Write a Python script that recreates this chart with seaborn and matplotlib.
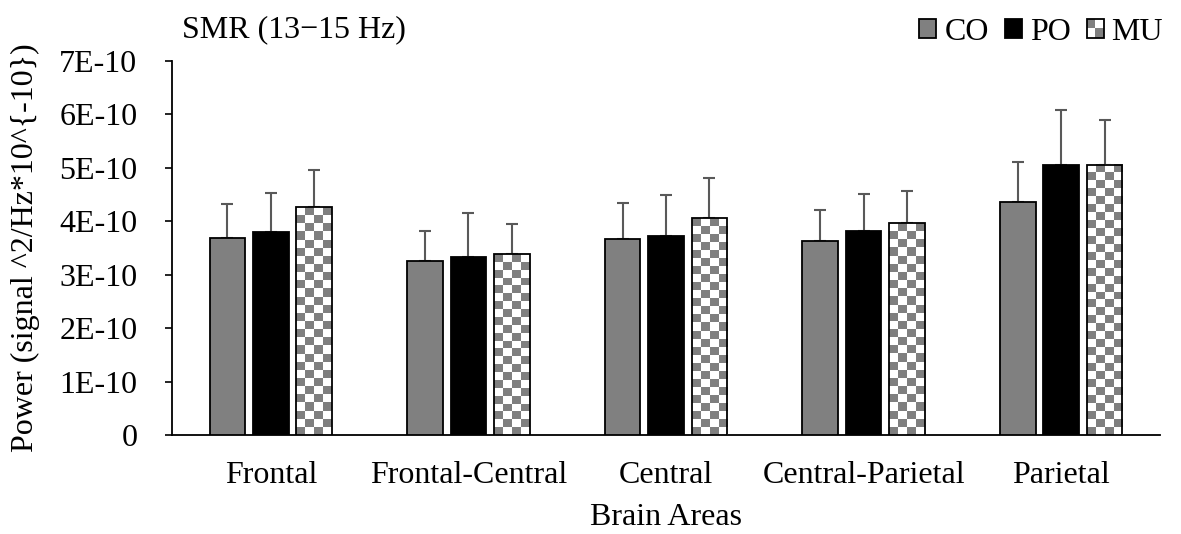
import numpy as np
import pandas as pd
import matplotlib
matplotlib.use("Agg")
import matplotlib.pyplot as plt
import seaborn as sns
from matplotlib.patches import Patch, Rectangle
from matplotlib.legend_handler import HandlerBase
from matplotlib.ticker import FuncFormatter, MultipleLocator

# data (power in units of 1E-10)
areas = ["Frontal", "Frontal-Central", "Central", "Central-Parietal", "Parietal"]
groups = ["CO", "PO", "MU"]
co_mean = [3.69, 3.26, 3.67, 3.63, 4.37]
po_mean = [3.80, 3.34, 3.73, 3.81, 5.06]
mu_mean = [4.26, 3.38, 4.06, 3.96, 5.06]
co_err = [0.63, 0.56, 0.67, 0.59, 0.74]
po_err = [0.73, 0.82, 0.77, 0.71, 1.02]
mu_err = [0.70, 0.56, 0.75, 0.61, 0.84]

errs = {"CO": co_err, "PO": po_err, "MU": mu_err}

df = pd.DataFrame({
    "area": areas * 3,
    "group": np.repeat(groups, len(areas)),
    "power": co_mean + po_mean + mu_mean,
})

sns.set_style("ticks")
plt.rcParams["font.family"] = ["Liberation Serif", "DejaVu Serif"]
plt.rcParams["font.size"] = 23
for k in ["text.color", "axes.labelcolor", "xtick.color", "ytick.color"]:
    plt.rcParams[k] = "black"

fig = plt.figure(figsize=(11.81, 5.34), dpi=100)
ax = fig.add_axes([172 / 1181, 99 / 534, 988 / 1181, 374 / 534])

sns.barplot(data=df, x="area", y="power", hue="group", order=areas, hue_order=groups,
            palette=["#808080", "#000000", "#ffffff"], edgecolor="black", linewidth=1.3,
            width=0.66, gap=0.18, errorbar=None, legend=False, ax=ax, zorder=3)

ax.set_xlim(-0.5, 4.5)
ax.set_ylim(0, 7)

# upward-only error bars at the bar centres
for cont, g in zip(ax.containers, groups):
    xs = [p.get_x() + p.get_width() / 2 for p in cont.patches]
    ys = [p.get_height() for p in cont.patches]
    ax.errorbar(xs, ys, yerr=[np.zeros(len(ys)), errs[g]], fmt="none",
                ecolor="#595959", elinewidth=1.5, capsize=4, capthick=1.5, zorder=2)

# checker fill for MU bars
sq = 8.0  # square size in pixels
for p in ax.containers[2].patches:
    x0, w, h = p.get_x(), p.get_width(), p.get_height()
    px = ax.transData.transform((x0 + w, h)) - ax.transData.transform((x0, 0))
    nc = max(1, int(round(px[0] / sq)))
    nr = max(1, int(round(px[1] / sq)))
    board = np.add.outer(np.arange(nr)[::-1], np.arange(nc)) % 2 == 0
    img = np.where(board[..., None], [0.5, 0.5, 0.5], [1.0, 1.0, 1.0])
    ax.imshow(img, extent=(x0, x0 + w, 0, h), aspect="auto",
              interpolation="nearest", clip_path=p, zorder=2.9)
    p.set_facecolor("none")

ax.set_xlim(-0.5, 4.5)
ax.set_ylim(0, 7)

ax.yaxis.set_major_locator(MultipleLocator(1))
ax.yaxis.set_major_formatter(FuncFormatter(lambda v, _: "0" if v == 0 else f"{v:.0f}E-10"))
ax.tick_params(axis="y", length=5, width=1.2, pad=20)
ax.tick_params(axis="x", length=0, pad=19)
for s in ["top", "right"]:
    ax.spines[s].set_visible(False)
for s in ["left", "bottom"]:
    ax.spines[s].set_linewidth(1.3)
    ax.spines[s].set_color("black")

ax.set_xlabel("Brain Areas", labelpad=9)
ax.set_ylabel("Power (signal ^2/Hz*10^{-10})", labelpad=14)

fig.text(182 / 1181, 1 - 37 / 534, "SMR (13\u221215 Hz)", ha="left", va="baseline")


class CheckerHandler(HandlerBase):
    def create_artists(self, legend, orig_handle, xdescent, ydescent, width, height, fontsize, trans):
        arts = []
        w, h = width / 2, height / 2
        for i in range(2):
            for j in range(2):
                c = "#808080" if (i + j) % 2 == 1 else "white"
                arts.append(Rectangle((-xdescent + i * w, -ydescent + j * h), w, h,
                                      facecolor=c, edgecolor="none", transform=trans))
        arts.append(Rectangle((-xdescent, -ydescent), width, height, facecolor="none",
                              edgecolor="black", linewidth=1.3, transform=trans))
        return arts


handles = [Patch(facecolor="#808080", edgecolor="black", linewidth=1.3, label="CO"),
           Patch(facecolor="black", edgecolor="black", linewidth=1.3, label="PO"),
           Patch(facecolor="white", edgecolor="black", linewidth=1.3, label="MU")]
fig.legend(handles=handles, handler_map={handles[2]: CheckerHandler()}, ncol=3,
           loc="center right", bbox_to_anchor=(1163 / 1181, 1 - 32 / 534), frameon=False,
           handlelength=0.53, handleheight=0.53, handletextpad=0.25, columnspacing=0.5,
           borderpad=0, borderaxespad=0)

fig.savefig("out.png", dpi=100)
